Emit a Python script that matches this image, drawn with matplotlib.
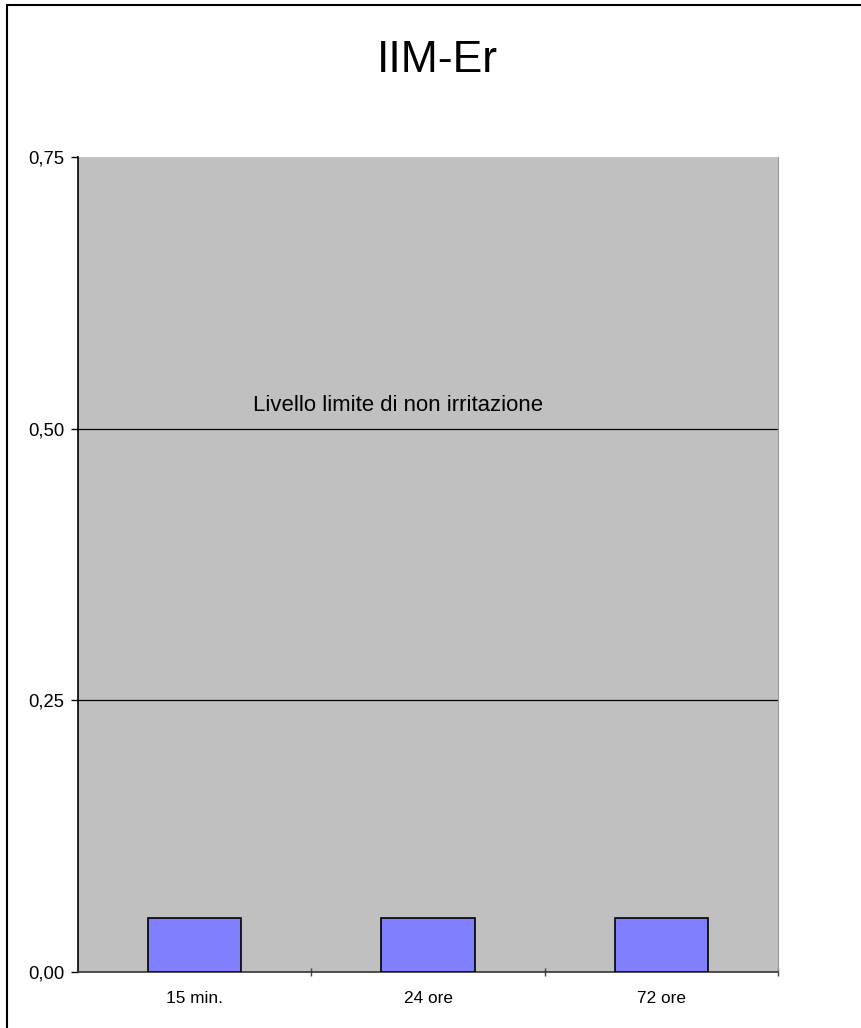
import matplotlib.pyplot as plt
from matplotlib.patches import Rectangle

categories = ['15 min.', '24 ore', '72 ore']
values = [0.05, 0.05, 0.05]
y_ticks = [0.0, 0.25, 0.5, 0.75]
y_labels = ['0,00', '0,25', '0,50', '0,75']
limit_level = 0.5
limit_text = 'Livello limite di non irritazione'
title = 'IIM-Er'

plt.rcParams['font.family'] = ['Liberation Sans', 'DejaVu Sans']

fig = plt.figure(figsize=(8.61, 10.28), dpi=100)
ax = fig.add_axes([78 / 861, 56 / 1028, 700 / 861, 815 / 1028])
ax.set_facecolor('#c0c0c0')

x = range(len(categories))
ax.bar(x, values, width=0.4, color='#8080ff', edgecolor='black', linewidth=1.2, zorder=3)

# horizontal gridlines (0.75 is the top edge of the plot area)
for y in y_ticks[1:-1]:
    ax.axhline(y, color='black', linewidth=0.9, zorder=1)

ax.text(0.25, limit_level + 0.012, limit_text, fontsize=15.9, ha='left', va='bottom', zorder=4)

ax.set_xlim(-0.5, len(categories) - 0.5)
ax.set_ylim(0, 0.75)
ax.set_yticks(y_ticks)
ax.set_yticklabels(y_labels, fontsize=13.3)
ax.set_xticks(list(x))
ax.set_xticklabels(categories, fontsize=12.4)
ax.tick_params(axis='x', which='major', length=0, pad=14)
ax.set_xticks([i + 0.5 for i in x], minor=True)
ax.tick_params(axis='x', which='minor', length=6, width=1, color='#444444', direction='inout')
ax.tick_params(axis='y', length=5, width=1, pad=5)

ax.spines['top'].set_visible(False)
ax.spines['right'].set_color('#999999')
ax.spines['left'].set_color('black')
ax.spines['bottom'].set_color('#333333')
ax.spines['left'].set_linewidth(1.2)
ax.spines['bottom'].set_linewidth(1.2)

fig.text(437 / 861, 1 - 60 / 1028, title, fontsize=32, ha='center', va='center')

# chart frame, open toward the right and bottom edges
fig.patches.append(Rectangle((7 / 861, -0.1), 1.2, 1 - 5 / 1028 + 0.1, transform=fig.transFigure,
                             fill=False, edgecolor='black', linewidth=1.5))

fig.savefig('out.png', dpi=100)
